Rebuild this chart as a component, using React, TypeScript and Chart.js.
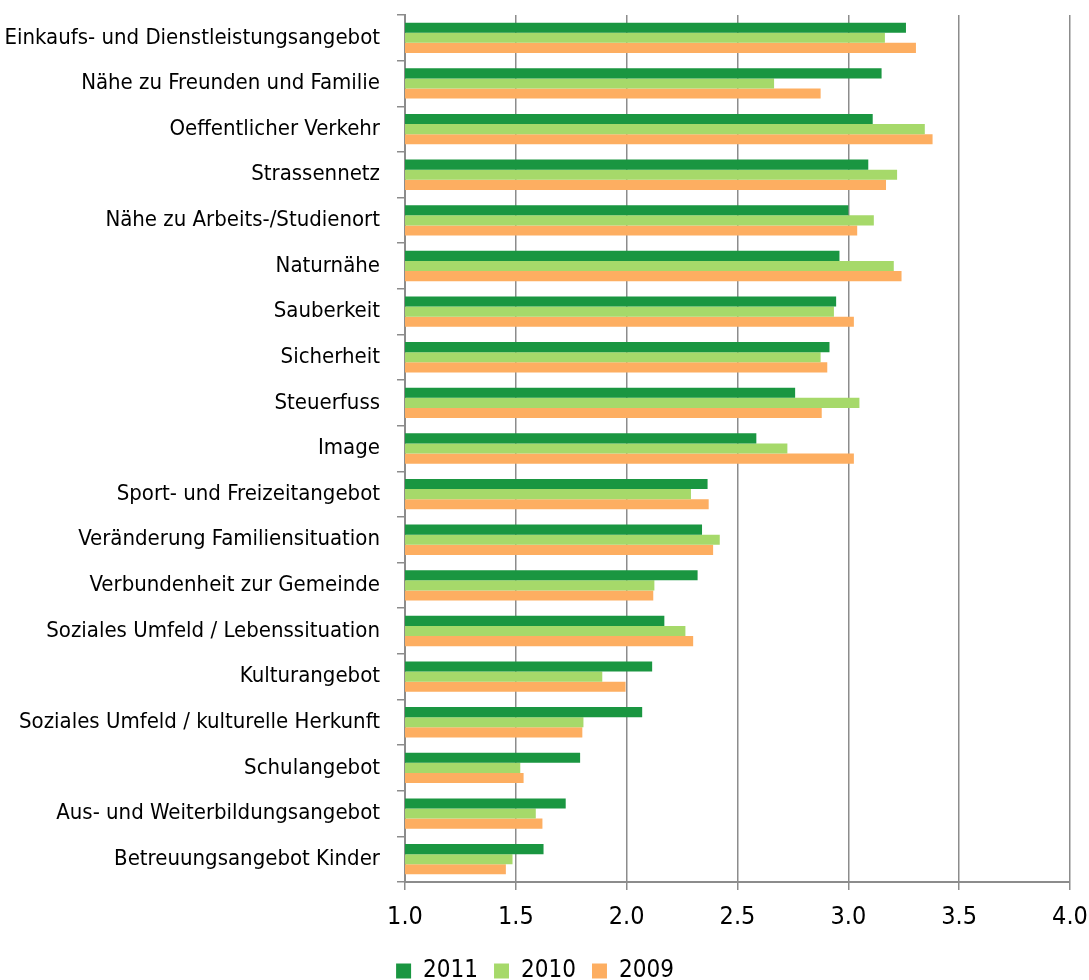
import React, { useEffect, useRef } from "react";
import { Chart, registerables } from "chart.js";

Chart.register(...registerables);

const categories = [
  "Einkaufs- und Dienstleistungsangebot",
  "Nähe zu Freunden und Familie",
  "Oeffentlicher Verkehr",
  "Strassennetz",
  "Nähe zu Arbeits-/Studienort",
  "Naturnähe",
  "Sauberkeit",
  "Sicherheit",
  "Steuerfuss",
  "Image",
  "Sport- und Freizeitangebot",
  "Veränderung Familiensituation",
  "Verbundenheit zur Gemeinde",
  "Soziales Umfeld / Lebenssituation",
  "Kulturangebot",
  "Soziales Umfeld / kulturelle Herkunft",
  "Schulangebot",
  "Aus- und Weiterbildungsangebot",
  "Betreuungsangebot Kinder",
];

const values2011 = [3.26, 3.15, 3.11, 3.09, 3.0, 2.96, 2.945, 2.915, 2.76, 2.585, 2.365, 2.34, 2.32, 2.17, 2.115, 2.07, 1.79, 1.725, 1.625];
const values2010 = [3.165, 2.665, 3.345, 3.22, 3.115, 3.205, 2.935, 2.875, 3.05, 2.725, 2.29, 2.42, 2.125, 2.265, 1.89, 1.805, 1.52, 1.59, 1.485];
const values2009 = [3.305, 2.875, 3.38, 3.17, 3.04, 3.24, 3.025, 2.905, 2.88, 3.025, 2.37, 2.39, 2.12, 2.3, 1.995, 1.8, 1.535, 1.62, 1.455];

const seriesNames = ["2011", "2010", "2009"];
const xTicks = [1.0, 1.5, 2.0, 2.5, 3.0, 3.5, 4.0];

const FONT = "'Liberation Sans Narrow', 'DejaVu Sans Condensed', 'Liberation Sans', sans-serif";

export default function App() {
  const ref = useRef<HTMLCanvasElement | null>(null);

  useEffect(() => {
    if (!ref.current) return;
    const colors = ["#1a9641", "#a6d96a", "#fdae61"];
    const series = [values2011, values2010, values2009];
    const chart = new Chart(ref.current, {
      type: "bar",
      data: {
        labels: categories,
        datasets: series.map((d, i) => ({
          label: seriesNames[i],
          data: d,
          backgroundColor: colors[i],
          borderWidth: 0,
          categoryPercentage: 0.665,
          barPercentage: 1.0,
        })),
      },
      options: {
        indexAxis: "y",
        responsive: false,
        animation: false,
        maintainAspectRatio: false,
        layout: { padding: { left: 0, right: 19, top: 15, bottom: -13 } },
        font: { family: FONT },
        plugins: {
          tooltip: { enabled: false },
          legend: {
            position: "bottom",
            labels: {
              boxWidth: 15,
              boxHeight: 15,
              padding: 16,
              color: "#000",
              font: { family: FONT, size: 24 },
            },
          },
        },
        scales: {
          x: {
            type: "linear",
            min: 1,
            max: 4,
            afterBuildTicks: (s: any) => {
              s.ticks = xTicks.map((v) => ({ value: v }));
            },
            afterFit: (s: any) => {
              s.height = 61;
              s.paddingLeft = 0;
              s.paddingRight = 0;
            },
            ticks: {
              color: "#000",
              font: { family: FONT, size: 25 },
              padding: 12,
              callback: (v: any) => Number(v).toFixed(1),
            },
            grid: {
              color: "#8c8c8c",
              lineWidth: 1.5,
              tickLength: 8,
              drawOnChartArea: true,
            },
            border: { color: "#8c8c8c", width: 2 },
          },
          y: {
            type: "category",
            afterFit: (s: any) => {
              s.width = 405;
              s.paddingTop = 0;
              s.paddingBottom = 0;
            },
            ticks: {
              color: "#000",
              font: { family: FONT, size: 22 },
              padding: 17,
              autoSkip: false,
            },
            grid: {
              color: "#8c8c8c",
              lineWidth: 1.5,
              tickLength: 8,
              drawOnChartArea: false,
              offset: true,
            },
            border: { color: "#8c8c8c", width: 2 },
          },
        },
      },
    });
    return () => chart.destroy();
  }, []);

  return (
    <div style={{ position: "fixed", left: 0, top: 0, width: 1089, height: 980, background: "#fff" }}>
      <canvas ref={ref} width={1089} height={980} style={{ width: 1089, height: 980, display: "block" }} />
    </div>
  );
}
